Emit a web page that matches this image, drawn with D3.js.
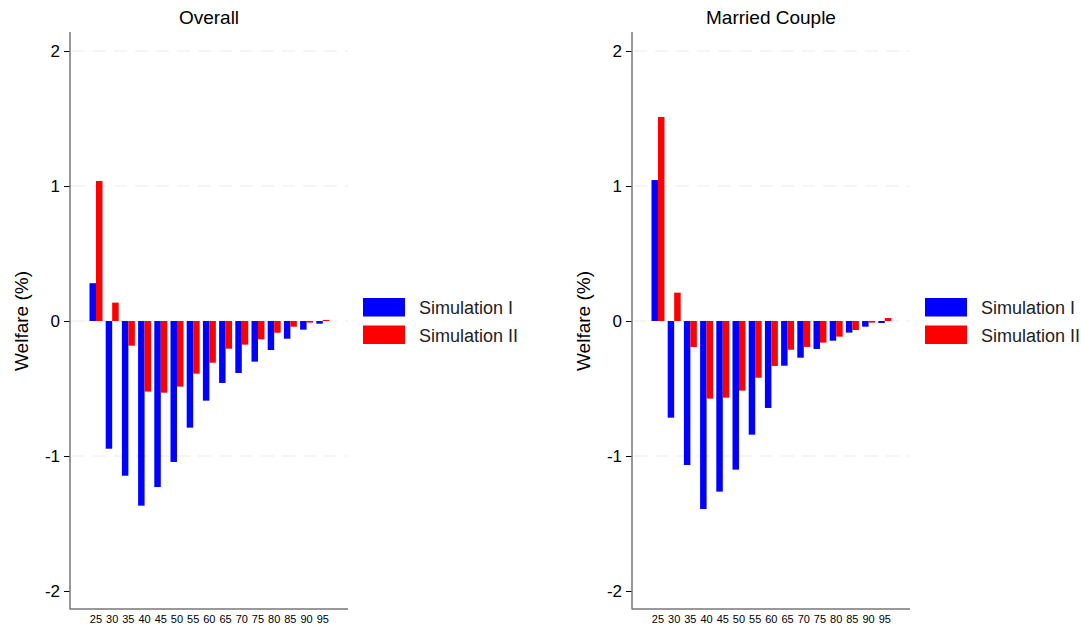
<!DOCTYPE html>
<html>
<head>
    <meta charset="utf-8" />
    <title>Welfare</title>
    <script src="https://cdn.jsdelivr.net/npm/d3@7"></script>
    <style>
        body { margin: 0; background: #fff; }
        text { font-family: "Liberation Sans", Arial, sans-serif; }
    </style>
</head>
<body>
</body>
<script>

    var ages = ['25','30','35','40','45','50','55','60','65','70','75','80','85','90','95'];
    var seriesNames = ['Simulation I', 'Simulation II'];
    var yTicks = [-2, -1, 0, 1, 2];

    var overallSim1 = [0.28, -0.946, -1.146, -1.368, -1.23, -1.044, -0.79, -0.59, -0.459, -0.385, -0.301, -0.215, -0.131, -0.064, -0.02];
    var overallSim2 = [1.037, 0.136, -0.183, -0.523, -0.531, -0.486, -0.39, -0.309, -0.205, -0.175, -0.136, -0.087, -0.042, -0.012, 0.008];
    var marriedSim1 = [1.044, -0.716, -1.067, -1.393, -1.264, -1.101, -0.842, -0.644, -0.331, -0.272, -0.207, -0.146, -0.086, -0.042, -0.015];
    var marriedSim2 = [1.511, 0.21, -0.193, -0.575, -0.568, -0.516, -0.42, -0.333, -0.213, -0.192, -0.16, -0.116, -0.067, -0.012, 0.022];

    var colors = ['#0000ff', '#ff0000'];

    var width = 1081, height = 629;
    var svg = d3.select('body').append('svg').attr('width', width).attr('height', height);

    function drawPanel(x0, title, s1, s2) {
        var left = x0, right = x0 + 278, top = 32, bottom = 609;
        var g = svg.append('g');

        var y = d3.scaleLinear().domain([-2, 2]).range([591, 51]);
        var step = 16.2;
        var x = d3.scaleBand().domain(ages).range([left + 19.5, left + 19.5 + step * 14.8]).paddingInner(0.2).paddingOuter(0);
        var xs = d3.scaleBand().domain(seriesNames).range([0, x.bandwidth()]);

        // grid
        g.selectAll('.grid').data([-1, 0, 1, 2]).enter().append('line')
            .attr('x1', left + 2).attr('x2', right)
            .attr('y1', function(d){ return y(d); }).attr('y2', function(d){ return y(d); })
            .attr('stroke', '#ebebeb').attr('stroke-width', 1.2)
            .attr('stroke-dasharray', '13,8');

        var data = [];
        ages.forEach(function(a, i){
            data.push({age: a, s: seriesNames[0], v: s1[i], c: colors[0]});
            data.push({age: a, s: seriesNames[1], v: s2[i], c: colors[1]});
        });
        g.selectAll('rect.bar').data(data).enter().append('rect')
            .attr('x', function(d){ return x(d.age) + xs(d.s); })
            .attr('width', xs.bandwidth())
            .attr('y', function(d){ return y(Math.max(0, d.v)); })
            .attr('height', function(d){ return Math.abs(y(d.v) - y(0)); })
            .attr('fill', function(d){ return d.c; });

        // y axis
        var yAxis = d3.axisLeft(y).tickValues(yTicks).tickSize(6).tickPadding(4)
            .tickFormat(function(d){ return String(d); });
        var ya = g.append('g').attr('transform', 'translate(' + left + ',0)').call(yAxis);
        ya.select('.domain').remove();
        ya.selectAll('line').attr('stroke', '#000').attr('stroke-width', 1);
        ya.selectAll('text').attr('font-size', 17).attr('fill', '#000').attr('font-family', '"Liberation Sans", Arial, sans-serif');
        g.append('line').attr('x1', left).attr('x2', left).attr('y1', top).attr('y2', bottom + 0.5)
            .attr('stroke', '#777').attr('stroke-width', 1.5);

        // x axis
        var xAxis = d3.axisBottom(x).tickSize(0).tickPadding(6);
        var xa = g.append('g').attr('transform', 'translate(0,' + bottom + ')').call(xAxis);
        xa.select('.domain').remove();
        xa.selectAll('text').attr('font-size', 11).attr('fill', '#000').attr('font-family', '"Liberation Sans", Arial, sans-serif');
        g.append('line').attr('x1', left).attr('x2', right).attr('y1', bottom).attr('y2', bottom)
            .attr('stroke', '#777').attr('stroke-width', 1.5);

        // title
        g.append('text').attr('x', (left + right) / 2).attr('y', 24).attr('text-anchor', 'middle')
            .attr('font-size', 19).text(title);

        // y label
        g.append('text').attr('transform', 'translate(' + (left - 42) + ',' + y(0) + ') rotate(-90)')
            .attr('text-anchor', 'middle').attr('font-size', 19).text('Welfare (%)');

        // legend
        var lg = g.append('g').attr('transform', 'translate(' + (left + 293) + ',298)');
        seriesNames.forEach(function(n, i){
            lg.append('rect').attr('x', 0).attr('y', i * 27.5).attr('width', 42).attr('height', 18.5).attr('fill', colors[i]);
            lg.append('text').attr('x', 56).attr('y', i * 27.5 + 16).attr('font-size', 18).attr('fill', '#222').text(n);
        });
    }

    drawPanel(70, 'Overall', overallSim1, overallSim2);
    drawPanel(632, 'Married Couple', marriedSim1, marriedSim2);

</script>
</html>
